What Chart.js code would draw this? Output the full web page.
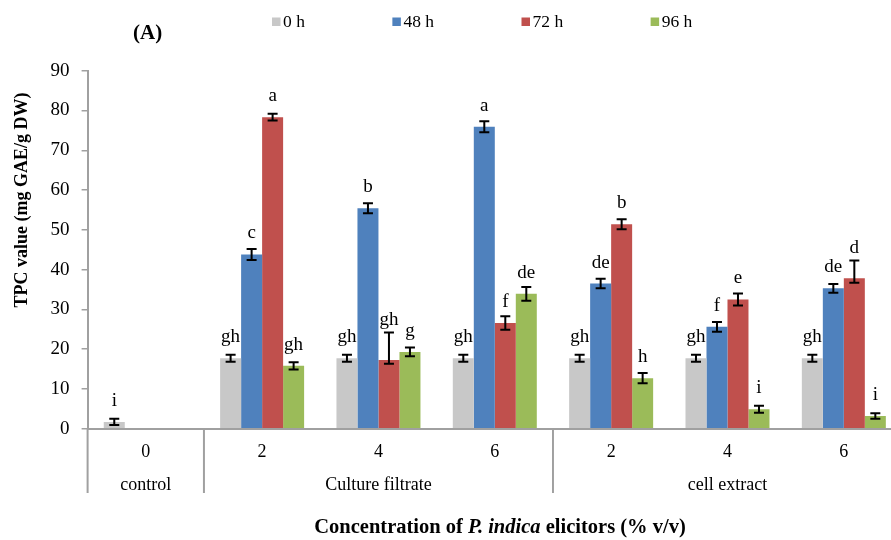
<!DOCTYPE html>
<html>
<head>
<meta charset="utf-8">
<script src="https://cdn.jsdelivr.net/npm/chart.js@4.4.0/dist/chart.umd.min.js"></script>
<style>
html,body{margin:0;padding:0;background:#fff;overflow:hidden}
#wrap{width:891px;height:540px;overflow:hidden;position:relative}
canvas{display:block}
</style>
</head>
<body>
<div id="wrap"><canvas id="c" width="902" height="540"></canvas></div>
<script>
// ---- data ----
const categories = ["0", "2", "4", "6", "2", "4", "6"];
const groups = ["control", "Culture filtrate", "cell extract"];
const groupSizes = [1, 3, 3];
const seriesNames = ["0 h", "48 h", "72 h", "96 h"];

const tpc0h  = [1.7, 17.7, 17.7, 17.7, 17.7, 17.7, 17.7];
const tpc48h = [null, 43.8, 55.4, 75.9, 36.5, 25.6, 35.3];
const tpc72h = [null, 78.3, 17.3, 26.6, 51.4, 32.5, 37.8];
const tpc96h = [null, 15.8, 19.3, 33.9, 12.7, 4.9, 3.2];

const err0h  = [0.8, 0.9, 0.9, 0.9, 0.9, 0.9, 0.9];
const err48h = [null, 1.4, 1.25, 1.4, 1.2, 1.2, 1.1];
const err72hMinus = [null, 0.85, 1.0, 1.7, 1.25, 1.5, 1.1];
const err72hPlus  = [null, 0.85, 6.9, 1.7, 1.25, 1.5, 4.5];
const err96h = [null, 0.9, 1.1, 1.75, 1.3, 0.9, 0.7];

const letters0h  = ["i", "gh", "gh", "gh", "gh", "gh", "gh"];
const letters48h = [null, "c", "b", "a", "de", "f", "de"];
const letters72h = [null, "a", "gh", "f", "b", "e", "d"];
const letters96h = [null, "gh", "g", "de", "h", "i", "i"];

const yTicks = [0, 10, 20, 30, 40, 50, 60, 70, 80, 90];

// ---- assembly ----
const seriesValues = [tpc0h, tpc48h, tpc72h, tpc96h];
const errMinus = [err0h, err48h, err72hMinus, err96h];
const errPlus  = [err0h, err48h, err72hPlus, err96h];
const seriesLetters = [letters0h, letters48h, letters72h, letters96h];
const palette = ["#C8C8C8", "#4F81BD", "#C0504D", "#9BBB59"];
const SERIF = "'Liberation Serif', 'Times New Roman', serif";
const AXIS_GRAY = "#a0a0a0";

const overlay = {
  id: 'overlay',
  afterDatasetsDraw(chart) {
    const ctx = chart.ctx, ys = chart.scales.y;
    ctx.save();
    seriesValues.forEach((vals, si) => {
      const meta = chart.getDatasetMeta(si);
      vals.forEach((v, i) => {
        if (v == null) return;
        const bar = meta.data[i];
        const x = bar.x;
        const yt = ys.getPixelForValue(v + errPlus[si][i]);
        const yb = ys.getPixelForValue(v - errMinus[si][i]);
        ctx.strokeStyle = '#000';
        ctx.lineWidth = 2;
        ctx.beginPath();
        ctx.moveTo(x, yt); ctx.lineTo(x, yb);
        ctx.moveTo(x - 5, yt); ctx.lineTo(x + 5, yt);
        ctx.moveTo(x - 5, yb); ctx.lineTo(x + 5, yb);
        ctx.stroke();
        const lab = seriesLetters[si][i];
        if (lab) {
          const by = Math.min(bar.y - 16, yt - 7);
          ctx.font = "19px " + SERIF;
          ctx.textAlign = 'center';
          ctx.textBaseline = 'alphabetic';
          ctx.fillStyle = '#000';
          ctx.fillText(lab, x, by);
        }
      });
    });
    ctx.restore();
  },
  afterDraw(chart) {
    const ctx = chart.ctx, xs = chart.scales.x, area = chart.chartArea;
    ctx.save();
    // group separators and group labels
    const half = (xs.getPixelForValue(1) - xs.getPixelForValue(0)) / 2;
    let idx = 0;
    ctx.strokeStyle = AXIS_GRAY;
    ctx.lineWidth = 2;
    const bounds = [xs.getPixelForValue(0) - half];
    groupSizes.forEach(n => { idx += n; bounds.push(xs.getPixelForValue(idx - 1) + half); });
    bounds.slice(0, groups.length).forEach(bx => {
      ctx.beginPath(); ctx.moveTo(bx, area.bottom); ctx.lineTo(bx, 493); ctx.stroke();
    });
    ctx.font = "18px " + SERIF;
    ctx.fillStyle = '#000';
    ctx.textAlign = 'center';
    ctx.textBaseline = 'alphabetic';
    groups.forEach((g, gi) => {
      ctx.fillText(g, (bounds[gi] + bounds[gi + 1]) / 2, 489.5);
    });
    // x axis title (mixed bold / bold italic)
    const parts = [["Concentration of ", "bold"], ["P. indica", "italic bold"], [" elicitors (% v/v)", "bold"]];
    let total = 0;
    parts.forEach(p => { ctx.font = p[1] + " 20.5px " + SERIF; total += ctx.measureText(p[0]).width; });
    let px = 500 - total / 2;
    ctx.textAlign = 'left';
    parts.forEach(p => { ctx.font = p[1] + " 20.5px " + SERIF; ctx.fillText(p[0], px, 533); px += ctx.measureText(p[0]).width; });
    // y axis title
    ctx.save();
    ctx.translate(27, 200);
    ctx.rotate(-Math.PI / 2);
    ctx.font = "bold 18px " + SERIF;
    ctx.textAlign = 'center';
    ctx.textBaseline = 'alphabetic';
    ctx.fillText("TPC value (mg GAE/g DW)", 0, 0);
    ctx.restore();
    // panel title
    ctx.font = "bold 21px " + SERIF;
    ctx.textAlign = 'left';
    ctx.fillText("(A)", 133, 39);
    // legend
    ctx.font = "17.5px " + SERIF;
    let lx = 272;
    seriesNames.forEach((name, i) => {
      ctx.fillStyle = palette[i];
      ctx.fillRect(lx, 17.5, 8.5, 8.5);
      ctx.fillStyle = '#000';
      ctx.fillText(name, lx + 11, 27.3);
      lx += 11 + ctx.measureText(name).width + 87.5;
    });
    ctx.restore();
  }
};

new Chart(document.getElementById('c'), {
  type: 'bar',
  data: {
    labels: categories,
    datasets: seriesNames.map((n, i) => ({
      label: n,
      data: seriesValues[i],
      backgroundColor: palette[i],
      borderWidth: 0,
      barPercentage: 1,
      categoryPercentage: 0.722
    }))
  },
  options: {
    responsive: false,
    animation: false,
    layout: { padding: { top: 70.7, left: 0, right: 0, bottom: 0 } },
    plugins: { legend: { display: false }, tooltip: { enabled: false }, title: { display: false } },
    scales: {
      x: {
        grid: { display: false, drawTicks: false },
        border: { display: true, color: AXIS_GRAY, width: 2 },
        ticks: { font: { family: SERIF, size: 18 }, color: '#000', padding: 13, autoSkip: false, maxRotation: 0 },
        afterFit(s) { s.height = 111.3; }
      },
      y: {
        min: 0, max: 90,
        afterBuildTicks(s) { s.ticks = yTicks.map(v => ({ value: v })); },
        grid: { display: true, drawOnChartArea: false, drawTicks: true, tickLength: 6, color: AXIS_GRAY, lineWidth: 1.5 },
        border: { display: true, color: AXIS_GRAY, width: 2 },
        ticks: { font: { family: SERIF, size: 19 }, color: '#000', padding: 12 },
        afterFit(s) { s.width = 87.6; }
      }
    }
  },
  plugins: [overlay]
});
</script>
</body>
</html>
